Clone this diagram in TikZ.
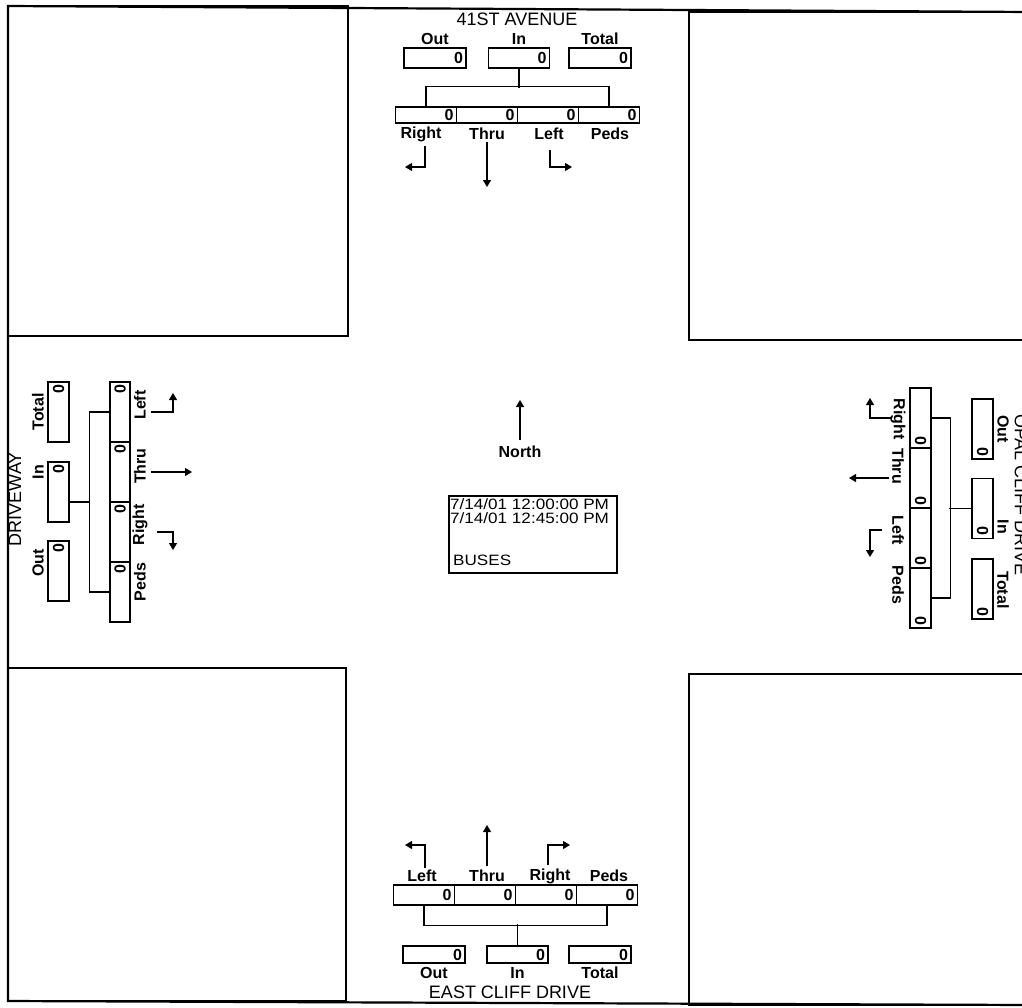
\documentclass[tikz,border=0pt]{standalone}
\usepackage{fontspec}
\setmainfont{Liberation Sans}
\newfontfamily\infofont[FakeStretch=1.14]{Liberation Sans}
\usetikzlibrary{arrows.meta}

\tikzset{
  cell/.style={draw, line width=1.1pt, inner xsep=3pt, inner ysep=0pt, align=right,
    font=\fontsize{16}{16}\selectfont\bfseries},
  lbl/.style={inner sep=0pt, font=\fontsize{16}{16}\selectfont\bfseries},
  road/.style={inner sep=0pt, font=\fontsize{18}{18}\selectfont},
  info/.style={inner sep=0pt, anchor=north west, align=left, font=\infofont\fontsize{15}{14.5}\selectfont},
  wire/.style={line width=1.1pt},
  turn/.style={line width=1.1pt, -{Triangle[width=8pt,length=7pt]}},
  block/.style={line width=1.2pt},
}

\begin{document}
\begin{tikzpicture}[x=1pt, y=-1pt]
  \useasboundingbox (0,0) rectangle (1022,1007);
  \clip (0,0) rectangle (1022,1007);

  % corner blocks and frame
  \draw[block] (8,6) rectangle (348,336);
  \draw[block] (689,12) rectangle (1030,340);
  \draw[block] (8,668) rectangle (346,1001);
  \draw[block] (689,674) rectangle (1030,1005);
  \draw[line width=2.2pt] (1030,12) -- (8,6) -- (8,1001) -- (1030,1005);

  % north approach
  \node[road] (nName) at (517,19) {41ST AVENUE};
  \foreach \n/\x/\w in {Out/435/56, In/519/55, Total/600/56} {
    \node[lbl] (nl\n) at (\x,39) {\n};
    \node[cell, text width=\w pt, minimum height=20pt] (n\n) at (\x,58) {0};
  }
  \foreach \n/\x/\lx in {Right/426/421, Thru/487/487, Left/548/549, Peds/609/610} {
    \node[cell, text width=55pt, minimum height=16pt] (n\n) at (\x,115) {0};
    \node[lbl] (nl\n) at (\lx,134) {\n};
  }
  \draw[wire] (nIn.south) -- ++(0,19);
  \draw[wire] (nRight.north) -- ++(0,-20) -| (nPeds.north);
  \draw[turn] (425,146) -- (425,167) -- (405,167);
  \draw[turn] (487,142) -- (487,187);
  \draw[turn] (550,150) -- (550,167) -- (572,167);

  % south approach
  \foreach \n/\x/\lx in {Left/424/422, Thru/485/487, Right/546/550, Peds/607/609} {
    \node[lbl] (sl\n) at (\lx,876) {\n};
    \node[cell, text width=55pt, minimum height=20pt] (s\n) at (\x,895) {0};
  }
  \foreach \n/\x/\w in {Out/434/56, In/517.5/55, Total/600/56} {
    \node[cell, text width=\w pt, minimum height=17pt] (s\n) at (\x,954.5) {0};
    \node[lbl] (sl\n) at (\x,973) {\n};
  }
  \node[road] (sName) at (510,992) {EAST CLIFF DRIVE};
  \draw[wire] (sIn.north) -- ++(0,-21);
  \draw[wire] (sLeft.south) -- ++(0,20) -| (sPeds.south);
  \draw[turn] (425,868) -- (425,845) -- (405,845);
  \draw[turn] (487,866) -- (487,825);
  \draw[turn] (548,865) -- (548,845) -- (570,845);

  % west approach
  \node[road, rotate=90] (wName) at (15,499) {DRIVEWAY};
  \foreach \n/\y/\ly in {Total/412/412, In/492/472, Out/571/563} {
    \node[lbl, rotate=90] (wl\n) at (38,\ly) {\n};
    \node[cell, rotate=90, text width=54pt, minimum height=21pt] (w\n) at (58.5,\y) {0};
  }
  \foreach \n/\y/\ly in {Left/412/405, Thru/472/466, Right/532/525, Peds/592/582} {
    \node[cell, rotate=90, text width=54pt, minimum height=20pt] (w\n) at (120,\y) {0};
    \node[lbl, rotate=90] (wl\n) at (140,\ly) {\n};
  }
  \coordinate (wJoin) at (90,502);
  \draw[wire] (wIn.south |- wJoin) -- (wJoin);
  \draw[wire] (wLeft.north) -- ++(-20,0) |- (wPeds.north);
  \draw[turn] (151,412) -- (173,412) -- (173,393);
  \draw[turn] (151,472) -- (192,472);
  \draw[turn] (157,532) -- (173,532) -- (173,550);

  % east approach
  \foreach \n/\y/\ly in {Right/418/419, Thru/478/466, Left/538/530, Peds/598/585} {
    \node[cell, rotate=-90, text width=54pt, minimum height=21pt] (e\n) at (920.5,\y) {0};
    \node[lbl, rotate=-90] (el\n) at (898,\ly) {\n};
  }
  \foreach \n/\y/\ly in {Out/429/429, In/508.5/527, Total/589/590} {
    \node[cell, rotate=-90, text width=54pt, minimum height=21pt] (e\n) at (982.5,\y) {0};
    \node[lbl, rotate=-90] (el\n) at (1003,\ly) {\n};
  }
  \node[road, rotate=-90] (eName) at (1021,495) {OPAL CLIFF DRIVE};
  \draw[wire] (eIn.south) -- ++(-22,0);
  \draw[wire] (eRight.north) -- ++(19,0) |- (ePeds.north);
  \draw[turn] (892,418) -- (870,418) -- (870,398);
  \draw[turn] (889,478) -- (849,478);
  \draw[turn] (882,530) -- (870,530) -- (870,557);

  % compass and count info
  \draw[turn] (520,440) -- (520,400);
  \node[lbl] (north) at (520,452) {North};
  \draw[line width=1.1pt] (449,496) rectangle (617,573);
  \node[info] (tTimes) at (450,498) {7/14/01 12:00:00 PM\\7/14/01 12:45:00 PM};
  \node[info, anchor=west] (tKind) at (453,560) {BUSES};
\end{tikzpicture}
\end{document}
